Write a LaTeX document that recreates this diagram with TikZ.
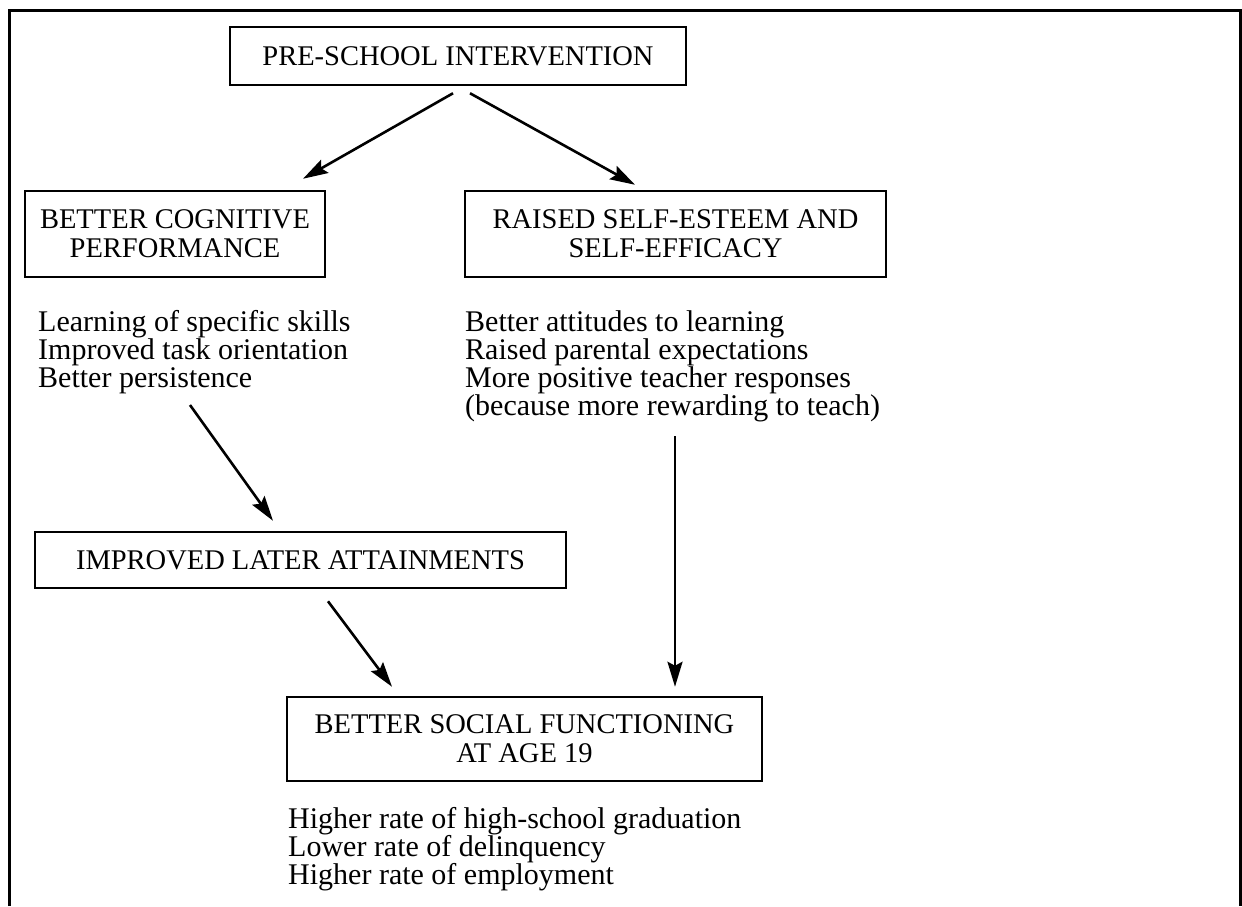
\documentclass[tikz,border=0pt]{standalone}
\usepackage{fontspec}
\setmainfont{Liberation Serif}
\usepackage{tikz}
\usetikzlibrary{arrows.meta}
\usetikzlibrary{positioning}
\tikzstyle{frame}=[line width=3pt]
\tikzstyle{stage}=[draw,line width=2.5pt,inner sep=0pt,align=center,
                font=\fontsize{28.5}{29}\selectfont]
\tikzstyle{effects}=[inner sep=0pt,align=left,anchor=north west,
                font=\fontsize{30}{28}\selectfont]
\tikzstyle{hit}=[line width=2.6pt,-{Stealth[length=25pt,width=15pt,inset=4pt]}]

\begin{document}
\begin{tikzpicture}[x=1pt,y=-1pt]
\useasboundingbox (0,0) rectangle (1242,906);
\draw[frame] (9,906) -- (9,10) -- (1240,10) -- (1240,906);

\node[stage,minimum width=456pt,minimum height=58pt] (pre) at (458,56)
  {PRE-SCHOOL INTERVENTION};
\node[stage,minimum width=300pt,minimum height=86pt] (cog) at (175,234)
  {BETTER COGNITIVE\\PERFORMANCE};
\node[stage,minimum width=421pt,minimum height=86pt] (raised) at (675.5,234)
  {RAISED SELF-ESTEEM AND\\SELF-EFFICACY};
\node[stage,minimum width=531pt,minimum height=56pt] (improved) at (300.5,560)
  {IMPROVED LATER ATTAINMENTS};
\node[stage,minimum width=475pt,minimum height=84pt] (social) at (524.5,739)
  {BETTER SOCIAL FUNCTIONING\\AT AGE 19};

\node[effects] (coglist) at (38,310)
  {Learning of specific skills\\Improved task orientation\\Better persistence};
\node[effects] (raisedlist) at (465,310)
  {Better attitudes to learning\\Raised parental expectations\\
   More positive teacher responses\\(because more rewarding to teach)};
\node[effects] (sociallist) at (288,807)
  {Higher rate of high-school graduation\\Lower rate of delinquency\\
   Higher rate of employment};

\draw[hit] ([shift={(-5,7)}]pre.south) -- ([shift={(128,-11)}]cog.north);
\draw[hit] ([shift={(12,7)}]pre.south) -- ([shift={(-40.5,-5)}]raised.north);
\draw[hit] ([shift={(152,95)}]coglist.north west) -- ([shift={(-27.5,-10)}]improved.north);
\draw[hit] ([shift={(27.5,12)}]improved.south) -- ([shift={(-132.5,-9)}]social.north);
\draw[hit] ([shift={(210,126)}]raisedlist.north west) -- ([shift={(150.5,-9)}]social.north);
\end{tikzpicture}
\end{document}
